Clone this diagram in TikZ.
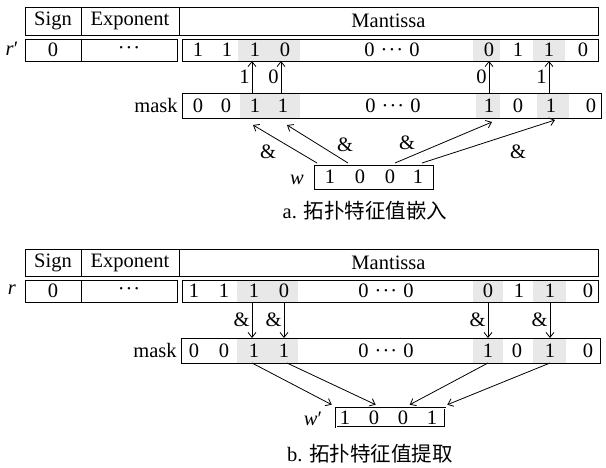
\documentclass[tikz,border=0pt]{standalone}
\usepackage{fontspec}
\setmainfont{Liberation Serif}
\newfontfamily\cjk{Noto Sans CJK SC}
\usetikzlibrary{arrows.meta,calc}
\newcommand{\mydots}{\kern1pt·\kern1pt·\kern1pt·\kern1pt}
\begin{document}
\begin{tikzpicture}[x=1pt,y=-1pt,line width=0.8pt,
  font=\fontsize{20.5}{24}\selectfont,
  cell/.style={draw,inner sep=0pt,outer sep=0pt},
  dg/.style={inner sep=0pt,outer sep=0pt,minimum width=20},
  shade/.style={fill=black!9},
  arr/.style={-{Straight Barb[length=5pt,width=8pt]},line width=0.8pt},
  lbl/.style={inner sep=0pt}]
\useasboundingbox (0,0) rectangle (606,467);

% ================= a =================
% header
\node[cell,minimum width=56,minimum height=28] (ahs) at (53,21) {Sign};
\node[cell,minimum width=98,minimum height=28] (ahe) at (130,21) {Exponent};
\node[cell,minimum width=419,minimum height=28] (ahm) at (388.5,21) {Mantissa};
% r' row
\node[lbl] (arl) at (12,49) {\textit{r}′};
\node[cell,minimum width=56,minimum height=22] (ars) at (53,50) {0};
\node[cell,minimum width=96,minimum height=22] (are) at (129,50) {\mydots};
\fill[shade] (238,39) rectangle (300,61);
\fill[shade] (473,39) rectangle (500,61);
\fill[shade] (533,39) rectangle (565,61);
\node[cell,minimum width=416,minimum height=22] (arm) at (390,50) {};
\node[dg,minimum height=22] (ar1) at (198,50) {1};
\node[dg,minimum height=22] (ar2) at (227,50) {1};
\node[dg,minimum height=22] (ar3) at (255,50) {1};
\node[dg,minimum height=22] (ar4) at (285,50) {0};
\node[dg,minimum height=22] (ar5) at (392,50) {0 \mydots\ 0};
\node[dg,minimum height=22] (ar6) at (489,50) {0};
\node[dg,minimum height=22] (ar7) at (518,50) {1};
\node[dg,minimum height=22] (ar8) at (549,50) {1};
\node[dg,minimum height=22] (ar9) at (583,50) {0};
% mask row
\fill[shade] (240,93) rectangle (300,118);
\fill[shade] (476,93) rectangle (500,118);
\fill[shade] (537,93) rectangle (569,118);
\node[cell,minimum width=419,minimum height=25] (amk) at (391.5,105.5) {};
\node[lbl,anchor=east] (amkl) at ([xshift=-4pt]amk.west) {mask};
\node[dg,minimum height=25] (am1) at (198,105.5) {0};
\node[dg,minimum height=25] (am2) at (226,105.5) {0};
\node[dg,minimum height=25] (am3) at (255,105.5) {1};
\node[dg,minimum height=25] (am4) at (283,105.5) {1};
\node[dg,minimum height=25] (am5) at (393,105.5) {0 \mydots\ 0};
\node[dg,minimum height=25] (am6) at (489,105.5) {1};
\node[dg,minimum height=25] (am7) at (518,105.5) {0};
\node[dg,minimum height=25] (am8) at (551,105.5) {1};
\node[dg,minimum height=25] (am9) at (591,105.5) {0};
% up arrows
\draw[arr] ([xshift=-3pt]am3.north) -- ([xshift=-3pt]am3.north |- arm.south)
  node[midway,left=2pt,lbl] {1};
\draw[arr] ([xshift=-2pt]am4.north) -- ([xshift=-2pt]am4.north |- arm.south)
  node[midway,left=2pt,lbl] {0};
\draw[arr] (am6.north) -- (am6.north |- arm.south)
  node[midway,left=2pt,lbl] {0};
\draw[arr] ([xshift=-2pt]am8.north) -- ([xshift=-2pt]am8.north |- arm.south)
  node[midway,left=2pt,lbl] {1};
% w box
\node[cell,minimum width=119,minimum height=24] (aw) at (373.5,177) {};
\node[lbl] (awl) at (297,180) {\textit{w}};
\node[dg] (aw1) at (330,177) {1};
\node[dg] (aw2) at (360,177) {0};
\node[dg] (aw3) at (390,177) {0};
\node[dg] (aw4) at (418,177) {1};
% diagonal arrows
\draw[arr] ($(aw.north west)+(3,-2)$) -- ($(am3.south)+(-2,7)$);
\draw[arr] ($(aw.north west)+(34,-2)$) -- ($(am4.south)+(4,7)$);
\draw[arr] ($(aw.north west)+(81,-2)$) -- ($(am6.south)+(3,4)$);
\draw[arr] ($(aw.north west)+(108,-2)$) -- ($(am8.south)+(4,2)$);
\node[lbl] (aa1) at (268,152) {\&};
\node[lbl] (aa2) at (345,145) {\&};
\node[lbl] (aa3) at (407,143) {\&};
\node[lbl] (aa4) at (518,152) {\&};
\node[lbl] (acap) at (365,211) {a. {\cjk 拓扑特征值嵌入}};

% ================= b =================
\node[cell,minimum width=56,minimum height=27] (bhs) at (53,262.5) {Sign};
\node[cell,minimum width=98,minimum height=27] (bhe) at (130,262.5) {Exponent};
\node[cell,minimum width=419,minimum height=27] (bhm) at (388.5,262.5) {Mantissa};
\node[lbl] (brl) at (12,290) {\textit{r}};
\node[cell,minimum width=56,minimum height=22] (brs) at (53,291) {0};
\node[cell,minimum width=96,minimum height=22] (bre) at (129,291) {\mydots};
\fill[shade] (237,280) rectangle (298,302);
\fill[shade] (473,280) rectangle (503,302);
\fill[shade] (533,280) rectangle (566,302);
\node[cell,minimum width=416,minimum height=22] (brm) at (390,291) {};
\node[dg,minimum height=22] (br1) at (194,291) {1};
\node[dg,minimum height=22] (br2) at (224,291) {1};
\node[dg,minimum height=22] (br3) at (254,291) {1};
\node[dg,minimum height=22] (br4) at (284,291) {0};
\node[dg,minimum height=22] (br5) at (386,291) {0 \mydots\ 0};
\node[dg,minimum height=22] (br6) at (488,291) {0};
\node[dg,minimum height=22] (br7) at (519,291) {1};
\node[dg,minimum height=22] (br8) at (550,291) {1};
\node[dg,minimum height=22] (br9) at (588,291) {0};
% mask row
\fill[shade] (237,338) rectangle (298,363);
\fill[shade] (473,338) rectangle (503,363);
\fill[shade] (533,338) rectangle (566,363);
\node[cell,minimum width=419,minimum height=25] (bmk) at (390.5,350.5) {};
\node[lbl,anchor=east] (bmkl) at ([xshift=-4pt]bmk.west) {mask};
\node[dg,minimum height=25] (bm1) at (194,350.5) {0};
\node[dg,minimum height=25] (bm2) at (224,350.5) {0};
\node[dg,minimum height=25] (bm3) at (254,350.5) {1};
\node[dg,minimum height=25] (bm4) at (284,350.5) {1};
\node[dg,minimum height=25] (bm5) at (386,350.5) {0 \mydots\ 0};
\node[dg,minimum height=25] (bm6) at (488,350.5) {1};
\node[dg,minimum height=25] (bm7) at (517,350.5) {0};
\node[dg,minimum height=25] (bm8) at (550,350.5) {1};
\node[dg,minimum height=25] (bm9) at (588,350.5) {0};
% down arrows
\draw[arr] ([xshift=-2pt]br3.south) -- ([xshift=-2pt]br3.south |- bmk.north)
  node[midway,left=2pt,lbl] {\&};
\draw[arr] (br4.south) -- (br4.south |- bmk.north)
  node[midway,left=2pt,lbl] {\&};
\draw[arr] (br6.south) -- (br6.south |- bmk.north)
  node[midway,left=2pt,lbl] {\&};
\draw[arr] (br8.south) -- (br8.south |- bmk.north)
  node[midway,left=2pt,lbl] {\&};
% w' box
\node[draw,double,double distance=0.9pt,line width=0.6pt,inner sep=0pt,minimum width=109,minimum height=19] (bw) at (390.5,417.5) {};
\node[lbl] (bwl) at (313,419) {\textit{w}′};
\node[dg] (bw1) at (345,417.5) {1};
\node[dg] (bw2) at (374,417.5) {0};
\node[dg] (bw3) at (403,417.5) {0};
\node[dg] (bw4) at (432,417.5) {1};
\coordinate (be1) at ($(bw.north west)+(-4,-3)$);
\coordinate (be2) at ($(bw.north west)+(40,-3)$);
\coordinate (be3) at ($(bw.north west)+(74,-3)$);
\coordinate (be4) at ($(bw.north east)+(2,-3)$);
\draw[arr] ([xshift=-2pt]bm3.south) -- (be1);
\draw[arr] ([xshift=3pt]bm4.south) -- (be2);
\draw[arr] (bm6.south) -- (be3);
\draw[arr] (bm8.south) -- (be4);
\node[lbl] (bcap) at (370,454) {b. {\cjk 拓扑特征值提取}};
\end{tikzpicture}
\end{document}
